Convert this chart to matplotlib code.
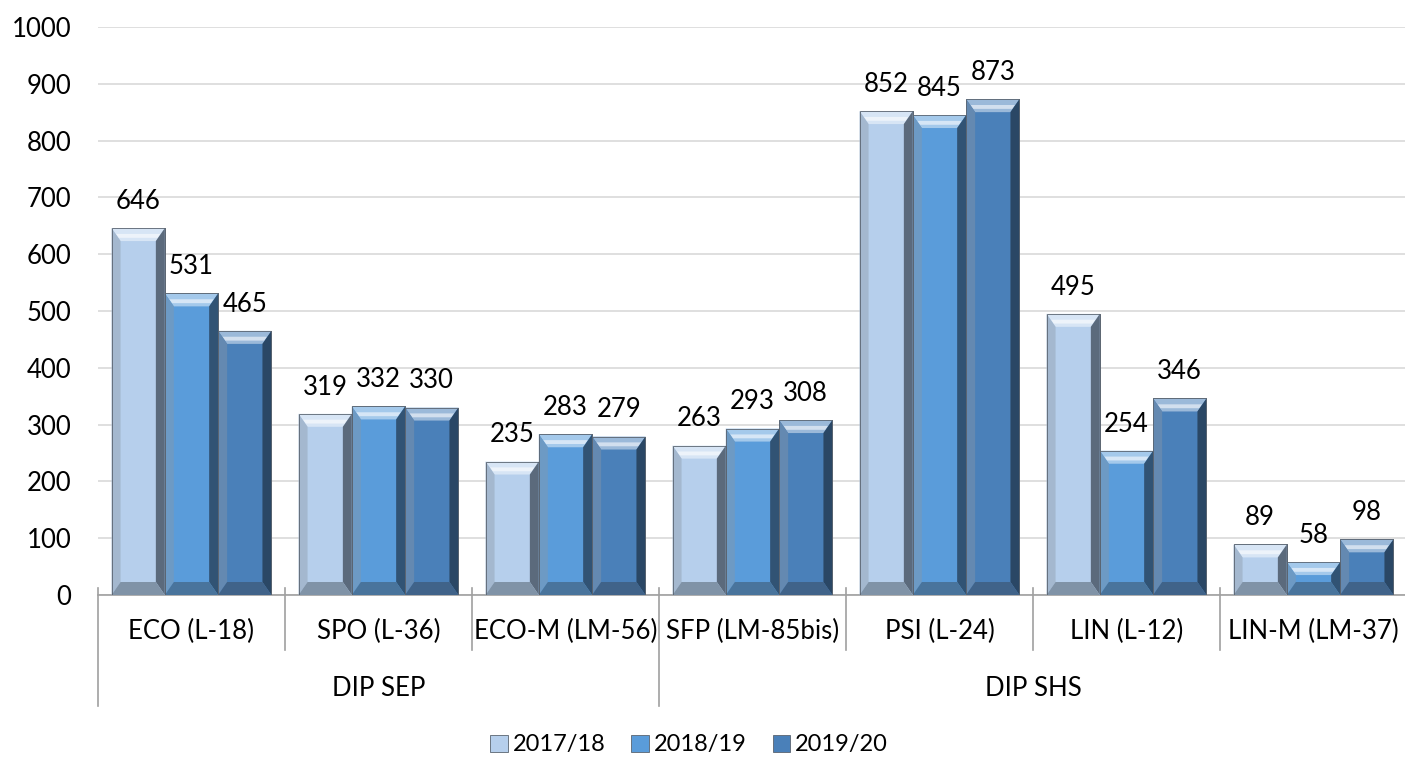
import numpy as np
import matplotlib.pyplot as plt
from matplotlib.colors import to_rgb

# data
programmes = ["ECO (L-18)", "SPO (L-36)", "ECO-M (LM-56)", "SFP (LM-85bis)",
              "PSI (L-24)", "LIN (L-12)", "LIN-M (LM-37)"]
departments = ["DIP SEP", "DIP SHS"]
dept_spans = [(0, 3), (3, 7)]  # programme index ranges per department
years = ["2017/18", "2018/19", "2019/20"]
v1718 = [646, 319, 235, 263, 852, 495, 89]
v1819 = [531, 332, 283, 293, 845, 254, 58]
v1920 = [465, 330, 279, 308, 873, 346, 98]
colors = ["#B6CFEC", "#5A9CDA", "#4A80B9"]

plt.rcParams['font.family'] = ['Lato', 'DejaVu Sans']
FS = 18.5

W, H = 1405, 758
fig = plt.figure(figsize=(W / 100, H / 100), dpi=100)
ax = fig.add_axes([98 / W, (H - 595) / H, 1309 / W, 568 / H])
ax.set_xlim(-0.5, len(programmes) - 0.5)
ax.set_ylim(0, 1000)


def mix(c, other, t):
    c = np.array(to_rgb(c))
    o = np.array(to_rgb(other))
    return tuple(c * (1 - t) + o * t)


x = np.arange(len(programmes))
bw = 0.285
series = [v1718, v1819, v1920]

# pixel -> data scale for bevel size
px_x = (ax.transData.transform((1, 0))[0] - ax.transData.transform((0, 0))[0])
px_y = (ax.transData.transform((0, 1))[1] - ax.transData.transform((0, 0))[1])

for i, vals in enumerate(series):
    xs = x + (i - 1) * bw
    bars = ax.bar(xs, vals, bw, color=colors[i], edgecolor="#5a6470",
                  linewidth=0.6, zorder=3, label=years[i])
    for b, v in zip(bars, vals):
        x0, x1 = b.get_x(), b.get_x() + b.get_width()
        y0, y1 = 0, v
        dx = 9 / px_x
        dy = min(13 / px_y, v / 2)
        base = colors[i]
        # top face: light highlight, a thin lighter band in the middle
        ax.fill([x0, x1, x1 - dx, x0 + dx], [y1, y1, y1 - dy, y1 - dy],
                color=mix(base, "white", 0.45), lw=0, zorder=4)
        ax.fill([x0 + dx * 0.5, x1 - dx * 0.5, x1 - dx * 0.8, x0 + dx * 0.8],
                [y1 - dy * 0.45, y1 - dy * 0.45, y1 - dy * 0.75, y1 - dy * 0.75],
                color=mix(base, "white", 0.75), lw=0, zorder=4)
        # left
        ax.fill([x0, x0 + dx, x0 + dx, x0], [y1, y1 - dy, y0 + dy, y0],
                color=mix(base, "#8a96a4", 0.4), lw=0, zorder=4)
        # right
        ax.fill([x1, x1 - dx, x1 - dx, x1], [y1, y1 - dy, y0 + dy, y0],
                color=mix(base, "#101820", 0.55), lw=0, zorder=4)
        # bottom
        ax.fill([x0, x0 + dx, x1 - dx, x1], [y0, y0 + dy, y0 + dy, y0],
                color=mix(base, "#303840", 0.4), lw=0, zorder=4)
        ax.add_patch(plt.Rectangle((x0, y0), x1 - x0, v, fill=False,
                                   edgecolor="#5a6470", lw=0.6, zorder=5))
        ax.text(b.get_x() + b.get_width() / 2, v + 25, str(v), ha="center",
                va="bottom", fontsize=FS, color="black", zorder=6)

ax.set_yticks(np.arange(0, 1001, 100))
ax.tick_params(axis="y", length=0, labelsize=FS, pad=19)
ax.yaxis.grid(True, color="#d9d9d9", lw=1.2, zorder=0)
ax.set_axisbelow(True)
for s in ["left", "right", "top"]:
    ax.spines[s].set_visible(False)
ax.spines["bottom"].set_color("#a0a0a0")
ax.spines["bottom"].set_linewidth(1.2)
ax.set_xticks([])

# multi-level category axis
trans = ax.get_xaxis_transform()
for k, name in enumerate(programmes):
    ax.text(k, -0.065, name, transform=trans, ha="center", va="center",
            fontsize=FS)
bounds = np.arange(len(programmes) + 1) - 0.5
long_b = [s for s, e in dept_spans] + [dept_spans[-1][1]]
for bnd in bounds:
    bottom = -0.195 if any(np.isclose(bnd + 0.5, lb) for lb in long_b) else -0.097
    ax.plot([bnd, bnd], [0.012, bottom], transform=trans, color="#a0a0a0",
            lw=1.2, clip_on=False, zorder=2)
for name, (s, e) in zip(departments, dept_spans):
    ax.text((s + e - 1) / 2, -0.165, name, transform=trans, ha="center",
            va="center", fontsize=FS)

# legend
leg = fig.legend(loc="center", bbox_to_anchor=(689 / W, 1 - 745 / H), ncol=3,
                 frameon=False, fontsize=17, handlelength=0.75, handleheight=0.75,
                 handletextpad=0.2, columnspacing=1.1)

fig.savefig("out.png", dpi=100)
